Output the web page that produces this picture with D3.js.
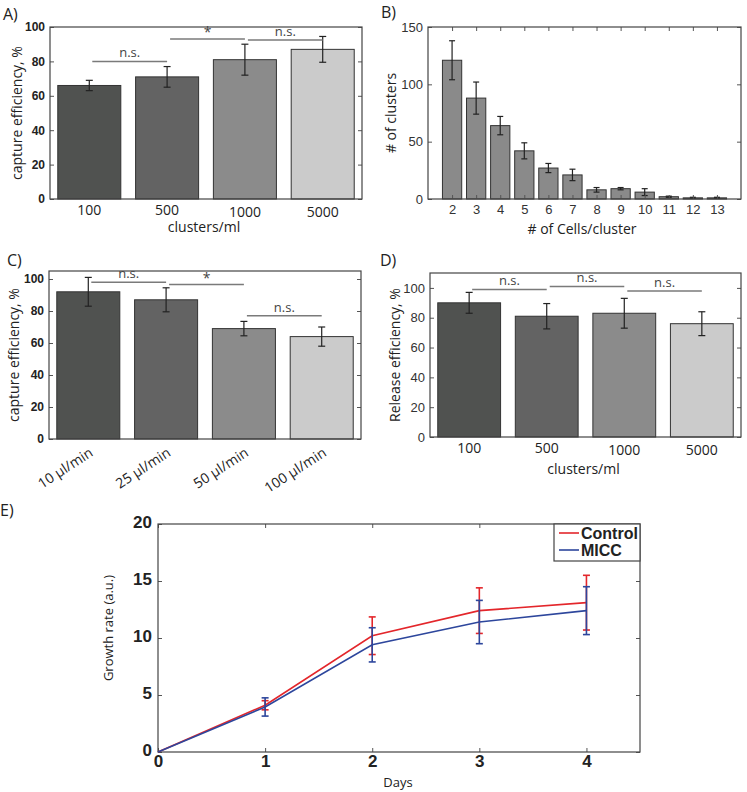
<!DOCTYPE html>
<html>
<head>
<meta charset="utf-8">
<script src="https://cdn.jsdelivr.net/npm/d3@7"></script>
<style>
  body { margin: 0; background: #fff; }
  text { fill: #222; }
</style>
</head>
<body>
<svg id="fig" width="747" height="792"></svg>
<script>
// A) capture efficiency vs. cluster concentration
var sizeLabels = ["100", "500", "1000", "5000"];
var captureBySize = [66, 71, 81, 87];
var captureBySizeErr = [3, 6, 9, 7.5];
var sigA = [[0, 1, 80, "n.s."], [1, 2, 93, "*"], [2, 3, 92.5, "n.s."]];

// B) cluster size distribution
var cellsPerCluster = [2, 3, 4, 5, 6, 7, 8, 9, 10, 11, 12, 13];
var clusterCounts = [121, 88, 64, 42, 27, 21, 8, 9, 6, 2, 1, 1];
var clusterCountsErr = [17, 14, 8, 7, 4, 5, 2, 1, 3, 0.5, 0.5, 0.5];

// C) capture efficiency vs. flow rate
var flowLabels = ["10 µl/min", "25 µl/min", "50 µl/min", "100 µl/min"];
var captureByFlow = [92, 87, 69, 64];
var captureByFlowErr = [9, 7.5, 4.5, 6];
var sigC = [[0, 1, 98, "n.s."], [1, 2, 96.5, "*"], [2, 3, 77, "n.s."]];

// D) release efficiency
var releaseBySize = [90, 81, 83, 76];
var releaseBySizeErr = [7, 8.5, 10, 8];
var sigD = [[0, 1, 99, "n.s."], [1, 2, 101, "n.s."], [2, 3, 98, "n.s."]];

// E) growth
var days = [0, 1, 2, 3, 4];
var controlGrowth = [0, 4.1, 10.2, 12.4, 13.1];
var controlErr = [0, 0.4, 1.65, 2.0, 2.4];
var miccGrowth = [0, 3.95, 9.4, 11.4, 12.4];
var miccErr = [0, 0.8, 1.5, 1.9, 2.1];

var barGrays = ["#505250", "#636363", "#8b8b8b", "#cbcbcb"];

var svg = d3.select("#fig");
var SANS = "'Liberation Sans', Arial, sans-serif";
var LABEL = "'Open Sans', sans-serif";

function panelLetter(txt, x, y) {
  svg.append("text").attr("x", x).attr("y", y)
    .style("font-family", LABEL).style("font-size", "16px").text(txt);
}

// inward ticks on all four sides + box, like a matlab axes
function frameAxes(g, x, y, o) {
  var yl = g.append("g").attr("transform", "translate(" + x.range()[0] + ",0)")
    .call(d3.axisLeft(y).tickValues(o.yTicks).tickSizeInner(-4).tickSizeOuter(0)
      .tickPadding(o.yPad || 5).tickFormat(d3.format("d")));
  var yr = g.append("g").attr("transform", "translate(" + x.range()[1] + ",0)")
    .call(d3.axisRight(y).tickValues(o.yTicks).tickSizeInner(-4).tickSizeOuter(0).tickFormat(""));
  yl.selectAll("text").style("font-family", SANS).style("font-size", o.yFont)
    .style("font-weight", o.yBold ? "bold" : "normal").style("fill", o.yColor || "#222");
  if (o.yDy) yl.selectAll("text").attr("dy", o.yDy);
  [yl, yr].forEach(function(a) {
    a.select(".domain").remove();
    a.selectAll("line").attr("stroke", "#555");
  });
  if (o.xTicks) {
    var xb = g.append("g").attr("transform", "translate(0," + y.range()[0] + ")")
      .call(d3.axisBottom(x).tickValues(o.xTicks).tickSizeInner(-4).tickSizeOuter(0)
        .tickPadding(o.xPad || 5).tickFormat(d3.format("d")));
    var xt = g.append("g").attr("transform", "translate(0," + y.range()[1] + ")")
      .call(d3.axisTop(x).tickValues(o.xTicks).tickSizeInner(-4).tickSizeOuter(0).tickFormat(""));
    xb.selectAll("text").style("font-family", SANS).style("font-size", o.xFont)
      .style("font-weight", o.xBold ? "bold" : "normal").style("fill", o.xColor || "#222");
    [xb, xt].forEach(function(a) {
      a.select(".domain").remove();
      a.selectAll("line").attr("stroke", "#555");
    });
  }
  g.append("rect")
    .attr("x", x.range()[0]).attr("y", y.range()[1])
    .attr("width", x.range()[1] - x.range()[0]).attr("height", y.range()[0] - y.range()[1])
    .attr("fill", "none").attr("stroke", "#444").attr("stroke-width", 1.2);
}

function yTitle(g, txt, x, y, size) {
  g.append("text").attr("transform", "translate(" + x + "," + y + ") rotate(-90)")
    .attr("text-anchor", "middle").attr("dy", "0.35em")
    .style("font-family", LABEL).style("font-size", size).text(txt);
}

function errBars(g, xs, ys, es, y, cap, color, width) {
  xs.forEach(function(cx, i) {
    if (!es[i]) return;
    var lo = y(ys[i] - es[i]), hi = y(ys[i] + es[i]);
    g.append("line").attr("x1", cx).attr("x2", cx).attr("y1", lo).attr("y2", hi);
    g.append("line").attr("x1", cx - cap).attr("x2", cx + cap).attr("y1", lo).attr("y2", lo);
    g.append("line").attr("x1", cx - cap).attr("x2", cx + cap).attr("y1", hi).attr("y2", hi);
  });
  g.attr("stroke", color).attr("stroke-width", width);
}

// generic 4-bar panel (A, C, D)
function barPanel(o) {
  var g = svg.append("g");
  var x = d3.scaleBand().domain(d3.range(o.values.length)).range([o.x0, o.x1])
    .paddingInner(0.19).paddingOuter(0.1);
  var y = d3.scaleLinear().domain([0, o.yMax]).range([o.y1, o.y0]);

  g.selectAll("rect.bar").data(o.values).join("rect").attr("class", "bar")
    .attr("x", function(d, i) { return x(i); })
    .attr("y", function(d) { return y(d); })
    .attr("width", x.bandwidth())
    .attr("height", function(d) { return y(0) - y(d); })
    .attr("fill", function(d, i) { return barGrays[i]; })
    .attr("stroke", "#333").attr("stroke-width", 1);

  var cx = o.values.map(function(d, i) { return x(i) + x.bandwidth() / 2; });
  errBars(g.append("g"), cx, o.values, o.errs, y, 3.5, "#222", 1.2);

  // significance brackets
  o.sig.forEach(function(s) {
    var xa = cx[s[0]] + 3, xb = cx[s[1]], yy = y(s[2]);
    g.append("line").attr("x1", xa).attr("x2", xb).attr("y1", yy).attr("y2", yy)
      .attr("stroke", "#7a7a7a").attr("stroke-width", 1.5);
    g.append("text").attr("x", (xa + xb) / 2).attr("y", yy - (s[3] == "*" ? 2 : 4))
      .attr("text-anchor", "middle")
      .style("font-family", LABEL).style("font-size", s[3] == "*" ? "14px" : "13px")
      .style("fill", "#444").text(s[3]);
  });

  frameAxes(g, d3.scaleLinear().range([o.x0, o.x1]), y,
    { yTicks: d3.range(0, 101, 20), yFont: o.yFont, yBold: o.yBold, yColor: o.yColor, yPad: 5 });

  if (o.rotate) {
    g.selectAll("text.cat").data(o.labels).join("text").attr("class", "cat")
      .attr("transform", function(d, i) { return "translate(" + (cx[i] + 3) + "," + (o.y1 + 12) + ") rotate(-33)"; })
      .attr("text-anchor", "end").attr("dy", "0.35em")
      .style("font-family", LABEL).style("font-size", "14px").text(function(d) { return d; });
  } else {
    g.selectAll("text.cat").data(o.labels).join("text").attr("class", "cat")
      .attr("x", function(d, i) { return cx[i]; })
      .attr("y", function(d, i) { return o.y1 + (i < 2 ? 16 : 18); })
      .attr("text-anchor", "middle")
      .style("font-family", LABEL).style("font-size", "14px").text(function(d) { return d; });
  }
  if (o.xTitle) {
    g.append("text").attr("x", (o.x0 + o.x1) / 2 - 2).attr("y", o.y1 + o.titleOff)
      .attr("text-anchor", "middle").style("font-family", LABEL).style("font-size", "14px")
      .text(o.xTitle);
  }
  yTitle(g, o.yTitle, o.yTitleX, (o.y0 + o.y1) / 2, "14px");
}

// ---- A
panelLetter("A)", 3, 20);
barPanel({ x0: 50, x1: 362, y0: 27, y1: 199, yMax: 100, values: captureBySize, errs: captureBySizeErr,
  labels: sizeLabels, sig: sigA, yFont: "12px", yBold: true, xTitle: "clusters/ml", titleOff: 33,
  yTitle: "capture efficiency, %", yTitleX: 17 });

// ---- B
panelLetter("B)", 381, 18);
(function() {
  var g = svg.append("g");
  var x = d3.scaleLinear().domain([1, 14]).range([428, 741]);
  var y = d3.scaleLinear().domain([0, 150]).range([199, 27]);
  var bw = x(1.8) - x(1);
  g.selectAll("rect").data(clusterCounts).join("rect")
    .attr("x", function(d, i) { return x(cellsPerCluster[i]) - bw / 2; })
    .attr("y", function(d) { return y(d); })
    .attr("width", bw)
    .attr("height", function(d) { return y(0) - y(d); })
    .attr("fill", "#8a8a8a").attr("stroke", "#333").attr("stroke-width", 1);
  errBars(g.append("g"), cellsPerCluster.map(function(c) { return x(c); }),
    clusterCounts, clusterCountsErr, y, 3, "#222", 1.2);
  frameAxes(g, x, y, { yTicks: [0, 50, 100, 150], yFont: "13px", yColor: "#333", yPad: 5,
    xTicks: cellsPerCluster, xFont: "13px", xColor: "#333", xPad: 6 });
  g.append("text").attr("x", 582).attr("y", 234).attr("text-anchor", "middle")
    .style("font-family", LABEL).style("font-size", "14px").text("# of Cells/cluster");
  yTitle(g, "# of clusters", 391, 113, "14px");
})();

// ---- C
panelLetter("C)", 7, 266);
barPanel({ x0: 49, x1: 361, y0: 271, y1: 439, yMax: 105, values: captureByFlow, errs: captureByFlowErr,
  labels: flowLabels, sig: sigC, yFont: "12px", yBold: true, rotate: true,
  yTitle: "capture efficiency, %", yTitleX: 14 });

// ---- D
panelLetter("D)", 380, 266);
barPanel({ x0: 430, x1: 741, y0: 273, y1: 437, yMax: 110, values: releaseBySize, errs: releaseBySizeErr,
  labels: sizeLabels, sig: sigD, yFont: "13px", yColor: "#333", xTitle: "clusters/ml", titleOff: 37,
  yTitle: "Release efficiency, %", yTitleX: 395 });

// ---- E
panelLetter("E)", 0, 516);
(function() {
  var g = svg.append("g");
  var x = d3.scaleLinear().domain([0, 4.5]).range([158, 640]);
  var y = d3.scaleLinear().domain([0, 20]).range([752, 524]);
  frameAxes(g, x, y, { yTicks: [0, 5, 10, 15, 20], yFont: "17px", yBold: true, yPad: 6, yDy: "0.2em",
    xTicks: days, xFont: "17px", xBold: true, xPad: 3 });

  var line = d3.line().x(function(d, i) { return x(days[i]); }).y(function(d) { return y(d); });
  var series = [
    { name: "Control", vals: controlGrowth, err: controlErr, color: "#e3262b" },
    { name: "MICC", vals: miccGrowth, err: miccErr, color: "#2d469c" }
  ];
  series.forEach(function(s) {
    g.append("path").datum(s.vals).attr("d", line)
      .attr("fill", "none").attr("stroke", s.color).attr("stroke-width", 1.6);
    errBars(g.append("g"), days.map(function(d) { return x(d); }), s.vals, s.err, y, 3.5, s.color, 1.6);
  });

  // legend
  var lg = g.append("g");
  lg.append("rect").attr("x", 554).attr("y", 524).attr("width", 86).attr("height", 37)
    .attr("fill", "#fff").attr("stroke", "#444").attr("stroke-width", 1.2);
  series.forEach(function(s, i) {
    var yy = 533 + i * 17;
    lg.append("line").attr("x1", 559).attr("x2", 579).attr("y1", yy).attr("y2", yy)
      .attr("stroke", s.color).attr("stroke-width", 1.6);
    lg.append("text").attr("x", 581).attr("y", yy).attr("dy", "0.36em")
      .style("font-family", SANS).style("font-size", "16px").style("font-weight", "bold")
      .text(s.name);
  });

  g.append("text").attr("x", 398).attr("y", 787).attr("text-anchor", "middle")
    .style("font-family", LABEL).style("font-size", "13px").text("Days");
  yTitle(g, "Growth rate (a.u.)", 108, 628, "13px");
})();
</script>
</body>
</html>
